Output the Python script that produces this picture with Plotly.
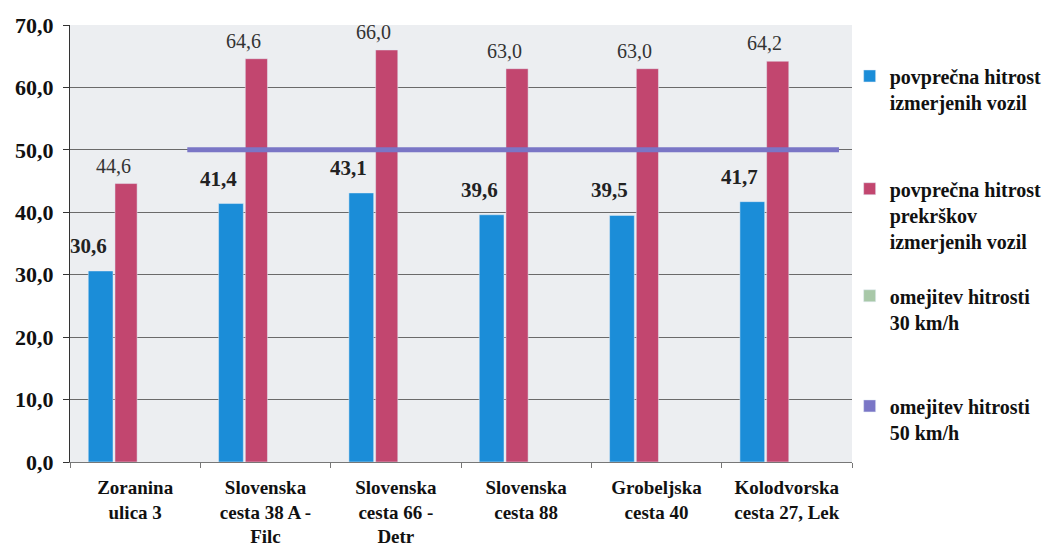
import plotly.graph_objects as go

categories = ["Zoranina<br>ulica 3", "Slovenska<br>cesta 38 A -<br>Filc", "Slovenska<br>cesta 66 -<br>Detr",
              "Slovenska<br>cesta 88", "Grobeljska<br>cesta 40", "Kolodvorska<br>cesta 27, Lek"]
avg_speed = [30.6, 41.4, 43.1, 39.6, 39.5, 41.7]
avg_violation = [44.6, 64.6, 66.0, 63.0, 63.0, 64.2]
limit_50 = [50, 50, 50, 50, 50, 50]
names = ["povprečna hitrost<br>izmerjenih vozil",
         "povprečna hitrost<br>prekrškov<br>izmerjenih vozil",
         "omejitev hitrosti<br>30 km/h",
         "omejitev hitrosti<br>50 km/h"]
y_ticks = [0, 10, 20, 30, 40, 50, 60, 70]

BLUE = "#1b8dd8"
CRIMSON = "#c2466f"
GREEN = "#a8c8a8"
PURPLE = "#7a76c6"
FONT = "Liberation Serif, Times New Roman, serif"

fig = go.Figure()
fig.add_trace(go.Bar(x=categories, y=avg_speed, name=names[0], marker_color=BLUE,
                     offset=-0.36, width=0.19, legend="legend"))
fig.add_trace(go.Bar(x=categories, y=avg_violation, name=names[1], marker_color=CRIMSON,
                     offset=-0.155, width=0.17, legend="legend2"))
fig.add_trace(go.Bar(x=[categories[0]], y=[None], name=names[2], marker_color=GREEN, legend="legend3"))
fig.add_trace(go.Bar(x=[categories[0]], y=[None], name=names[3], marker_color=PURPLE, legend="legend4"))
fig.add_trace(go.Scatter(x=categories, y=limit_50, mode="lines", line=dict(color=PURPLE, width=5),
                         xaxis="x2", showlegend=False, hoverinfo="skip"))

for c, v in zip(categories, avg_speed):
    fig.add_annotation(x=c, y=v, text=f"{v:.1f}".replace(".", ","), showarrow=False,
                       xshift=-47, yshift=25, font=dict(family=FONT, size=21, color="#222", weight="bold"))
for c, v in zip(categories, avg_violation):
    fig.add_annotation(x=c, y=v, text=f"{v:.1f}".replace(".", ","), showarrow=False,
                       xshift=-22, yshift=18, font=dict(family=FONT, size=20, color="#333"))

legend_font = dict(family=FONT, size=20, color="#111", weight="bold")
legend_common = dict(x=0.997, xanchor="left", yanchor="top", font=legend_font, valign="top",
                     itemwidth=30, bgcolor="rgba(0,0,0,0)")

fig.update_layout(
    width=1057, height=553,
    margin=dict(l=62, r=213, t=17, b=99),
    paper_bgcolor="white", plot_bgcolor="#eceef1",
    barmode="overlay", separators=",.",
    font=dict(family=FONT, size=17, color="#111"),
    legend=dict(y=0.928, **legend_common),
    legend2=dict(y=0.670, **legend_common),
    legend3=dict(y=0.425, **legend_common),
    legend4=dict(y=0.173, **legend_common),
    xaxis=dict(type="category", range=[-0.5, 5.5], showgrid=False, showline=True, linecolor="#777",
               ticks="outside", tickson="boundaries", tickcolor="#777", ticklen=5, automargin=False,
               ticklabelstandoff=8,
               tickfont=dict(family=FONT, size=19, color="#111", weight="bold")),
    xaxis2=dict(type="category", overlaying="x", range=[-0.9, 5.1], visible=False),
    yaxis=dict(range=[0, 70], tickvals=y_ticks, tickformat=".1f", showgrid=True, gridcolor="#6a6a6a",
               gridwidth=1, showline=True, linecolor="#333", ticks="outside", tickcolor="#333",
               ticklen=6, zeroline=False, automargin=False, ticklabelstandoff=5,
               tickfont=dict(family=FONT, size=22, color="#111", weight="bold")),
)

fig.write_html("out.html")
